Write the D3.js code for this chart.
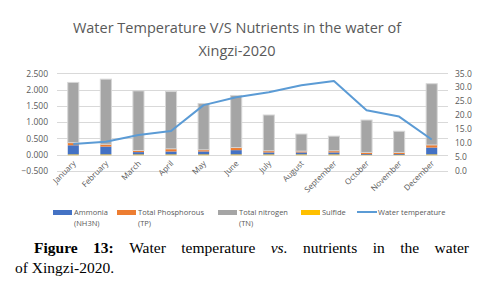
<!DOCTYPE html>
<html>
<head>
<meta charset="utf-8">
<script src="https://cdn.jsdelivr.net/npm/d3@7"></script>
<style>
  html, body { margin: 0; padding: 0; background: #fff; }
  svg { display: block; }
</style>
</head>
<body>
<div id="chart"></div>
<script>
// data
const months = ['January', 'February', 'March', 'April', 'May', 'June', 'July',
  'August', 'September', 'October', 'November', 'December'];
const ammonia = [0.28, 0.24, 0.07, 0.09, 0.09, 0.13, 0.06, 0.06, 0.06, 0.01, 0.01, 0.21];
const phosphorous = [0.08, 0.07, 0.05, 0.08, 0.05, 0.08, 0.05, 0.04, 0.05, 0.05, 0.05, 0.08];
const nitrogen = [1.85, 2.00, 1.83, 1.76, 1.42, 1.60, 1.10, 0.525, 0.45, 0.995, 0.65, 1.88];
const sulfide = [0.01, 0.01, 0.01, 0.01, 0.01, 0.01, 0.01, 0.01, 0.01, 0.01, 0.01, 0.01];
const waterTemp = [9.7, 10.5, 12.9, 14.3, 23.6, 26.4, 28.2, 30.7, 32.2, 21.8, 19.5, 11.3];
const leftTicks = [-0.5, 0, 0.5, 1.0, 1.5, 2.0, 2.5];
const rightTicks = [0, 5, 10, 15, 20, 25, 30, 35];

const W = 490, H = 283;
const svg = d3.select('#chart').append('svg').attr('width', W).attr('height', H);

const plot = { left: 57, right: 448, top: 73.3, bottom: 171 };
const axisColor = '#595959';
const font = 'Open Sans, Liberation Sans, sans-serif';

// title
const title = svg.append('text')
  .attr('text-anchor', 'middle')
  .style('font-family', font)
  .style('font-size', '14.5px')
  .attr('fill', axisColor);
title.append('tspan').attr('x', 237).attr('y', 33).text('Water Temperature V/S Nutrients in the water of');
title.append('tspan').attr('x', 237).attr('y', 56).text('Xingzi-2020');

const x = d3.scaleBand().domain(months).range([plot.left, plot.right]).paddingInner(0.66).paddingOuter(0.33);
const y = d3.scaleLinear().domain([-0.5, 2.5]).range([plot.bottom, plot.top]);
const y2 = d3.scaleLinear().domain([0, 35]).range([plot.bottom, plot.top]);

// gridlines
svg.append('g').selectAll('line').data(leftTicks).join('line')
  .attr('x1', plot.left).attr('x2', plot.right)
  .attr('y1', d => Math.round(y(d)) + 0.5).attr('y2', d => Math.round(y(d)) + 0.5)
  .attr('stroke', '#d9d9d9').attr('stroke-width', 1);

// left axis
const leftAxis = svg.append('g')
  .attr('transform', `translate(${plot.left - 9},0)`)
  .call(d3.axisLeft(y).tickValues(leftTicks).tickFormat(d3.format('.3f')).tickSize(0).tickPadding(0));
leftAxis.select('.domain').remove();
leftAxis.selectAll('text').style('font-family', font).style('font-size', '8.5px').attr('fill', axisColor);

// right axis
const rightAxis = svg.append('g')
  .attr('transform', `translate(${plot.right + 7},0)`)
  .call(d3.axisRight(y2).tickValues(rightTicks).tickFormat(d3.format('.1f')).tickSize(0).tickPadding(0));
rightAxis.select('.domain').remove();
rightAxis.selectAll('text').style('font-family', font).style('font-size', '8.5px').attr('fill', axisColor);

// stacked bars
const rows = months.map((m, i) => ({
  month: m, sulfide: sulfide[i], ammonia: ammonia[i], tp: phosphorous[i], tn: nitrogen[i]
}));
const keys = ['sulfide', 'ammonia', 'tp', 'tn'];
const colors = { ammonia: '#4472c4', tp: '#ed7d31', tn: '#a5a5a5', sulfide: '#ffc000' };
const stacked = d3.stack().keys(keys)(rows);

svg.append('g').selectAll('g').data(stacked).join('g')
  .attr('fill', d => colors[d.key])
  .attr('stroke', d => d.key === 'tn' ? '#d6d6d6' : 'none')
  .selectAll('rect').data(d => d).join('rect')
  .attr('x', d => x(d.data.month))
  .attr('width', x.bandwidth())
  .attr('y', d => y(d[1]))
  .attr('height', d => Math.max(0.8, y(d[0]) - y(d[1])));

// water temperature line
const line = d3.line()
  .x((d, i) => x(months[i]) + x.bandwidth() / 2)
  .y(d => y2(d));
svg.append('path').datum(waterTemp)
  .attr('d', line)
  .attr('fill', 'none')
  .attr('stroke', '#5b9bd5')
  .attr('stroke-width', 2)
  .attr('stroke-linejoin', 'round');

// x labels
svg.append('g').selectAll('text').data(months).join('text')
  .attr('transform', d => `translate(${x(d) + x.bandwidth() / 2 + 3},${plot.bottom - 7}) rotate(-45)`)
  .attr('text-anchor', 'end')
  .style('font-family', font).style('font-size', '8px')
  .attr('fill', axisColor)
  .text(d => d);

// legend
const legendItems = [
  { label: ['Ammonia', '(NH3N)'], color: colors.ammonia, x: 53 },
  { label: ['Total Phosphorous', '(TP)'], color: colors.tp, x: 117 },
  { label: ['Total nitrogen', '(TN)'], color: colors.tn, x: 218 },
  { label: ['Sulfide'], color: colors.sulfide, x: 301 },
  { label: ['Water temperature'], color: '#5b9bd5', x: 357, line: true }
];
const legend = svg.append('g');
legendItems.forEach(it => {
  if (it.line) {
    legend.append('line').attr('x1', it.x).attr('x2', it.x + 20)
      .attr('y1', 212).attr('y2', 212).attr('stroke', it.color).attr('stroke-width', 2);
  } else {
    legend.append('rect').attr('x', it.x).attr('y', 210).attr('width', 19).attr('height', 5).attr('fill', it.color);
  }
  const t = legend.append('text').style('font-family', font).style('font-size', '7.5px').attr('fill', axisColor);
  it.label.forEach((s, j) => t.append('tspan').attr('x', it.x + 21).attr('y', 215 + j * 11).text(s));
});

// caption, first line justified
const cap = svg.append('g').style('font-family', 'Liberation Serif, Times New Roman, serif').style('font-size', '15.5px').attr('fill', '#000');
const words = [
  { t: 'Figure', b: true }, { t: '13:', b: true }, { t: 'Water' }, { t: 'temperature' },
  { t: 'vs.', i: true }, { t: 'nutrients' }, { t: 'in' }, { t: 'the' }, { t: 'water' }
];
const nodes = words.map(w => cap.append('text').attr('y', 253)
  .style('font-weight', w.b ? 'bold' : 'normal')
  .style('font-style', w.i ? 'italic' : 'normal')
  .text(w.t));
const widths = nodes.map(n => n.node().getComputedTextLength());
const x0 = 34, x1 = 469;
const gap = (x1 - x0 - d3.sum(widths)) / (words.length - 1);
let cx = x0;
nodes.forEach((n, i) => { n.attr('x', cx); cx += widths[i] + gap; });
cap.append('text').attr('x', 15).attr('y', 273).text('of Xingzi-2020.');
</script>
</body>
</html>
